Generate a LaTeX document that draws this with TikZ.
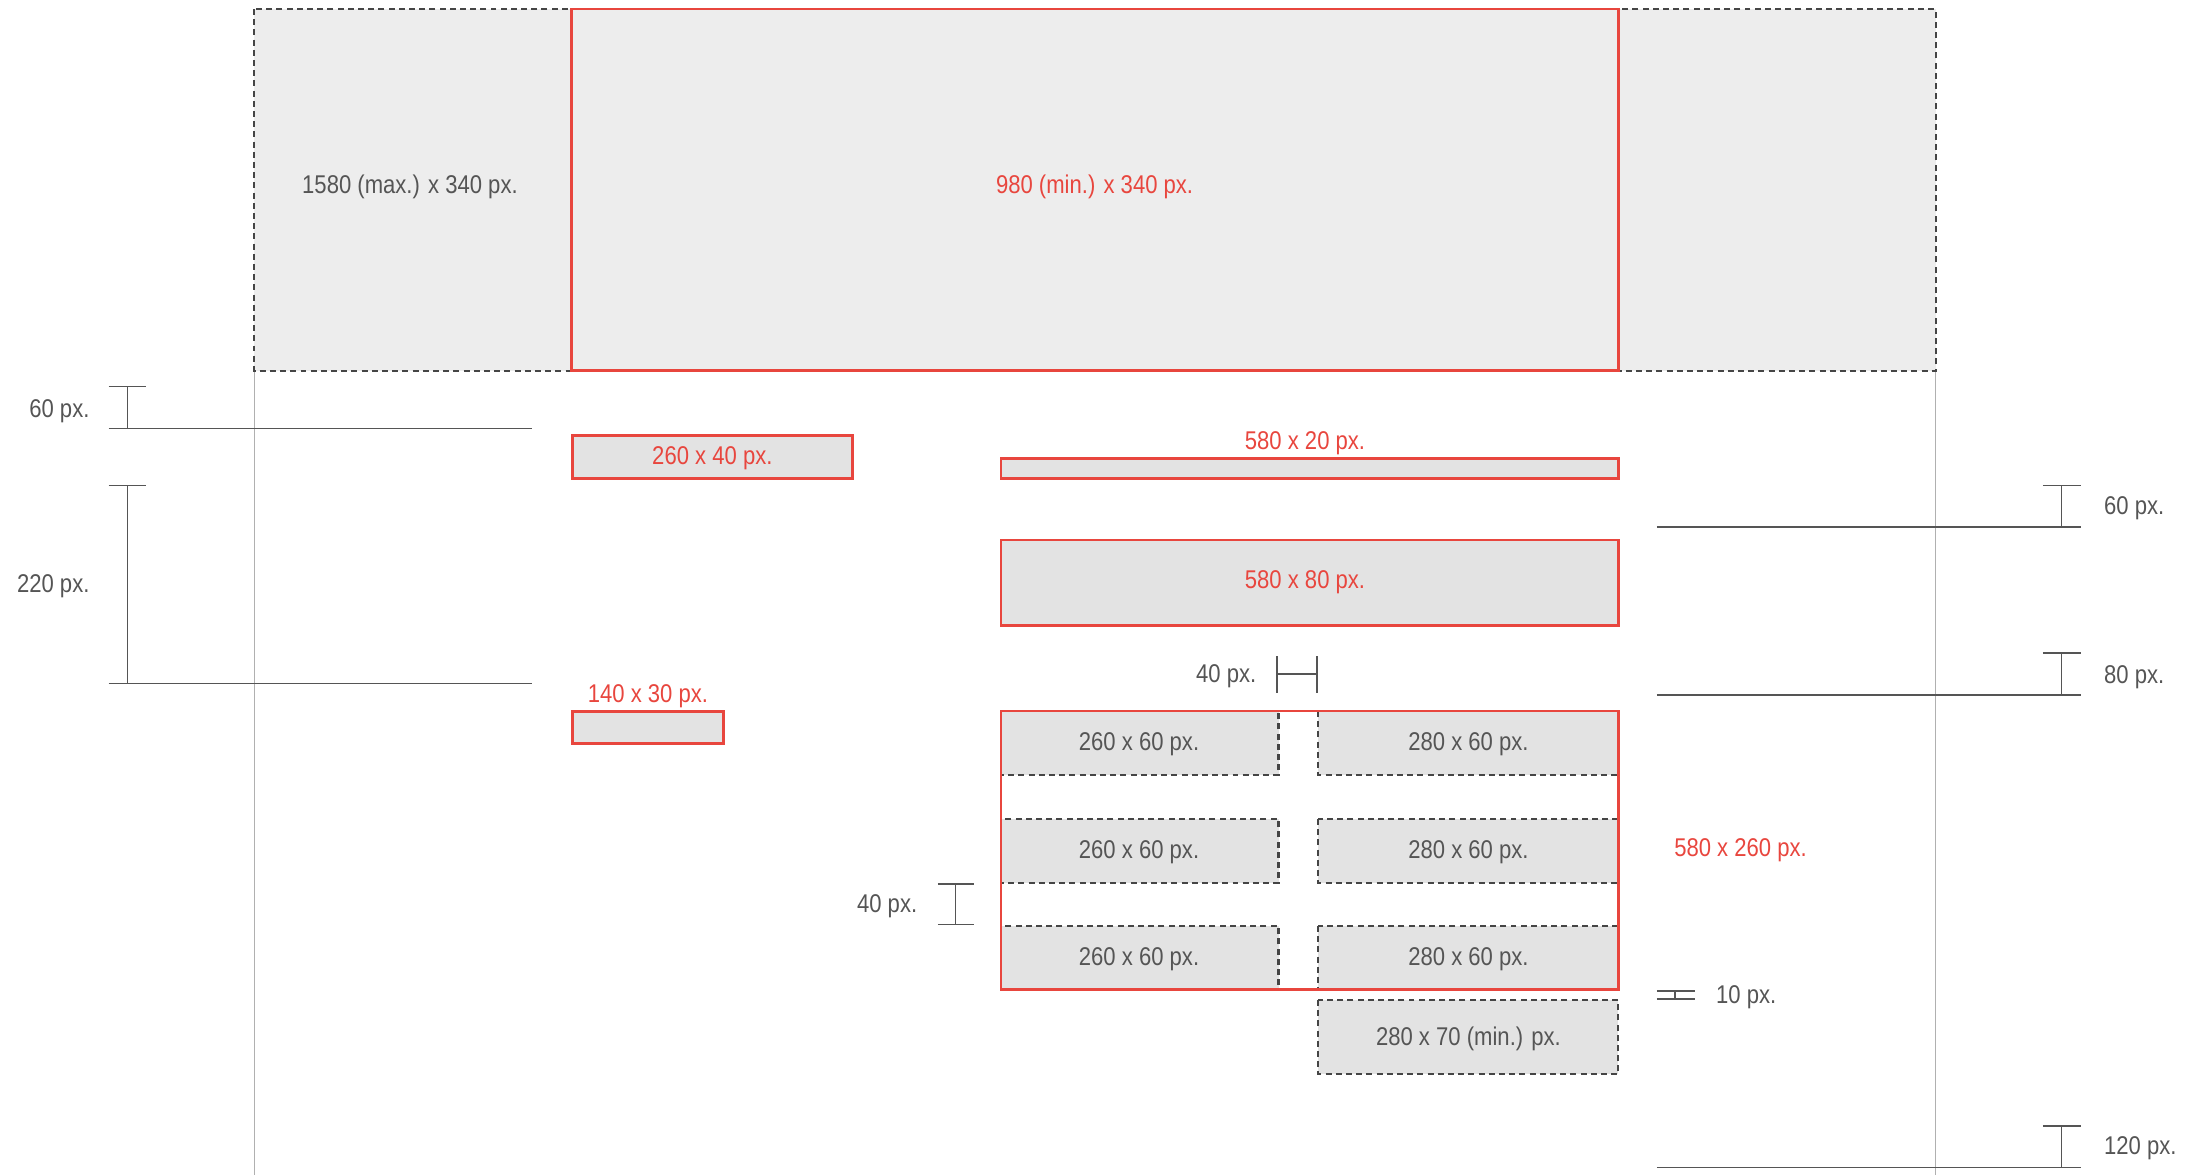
\documentclass[tikz,border=0pt]{standalone}
\usepackage{fontspec}
\setmainfont{Liberation Sans}[FakeStretch=0.86]
\usepackage{xcolor}
\definecolor{cRed}{HTML}{E8463E}
\definecolor{cText}{HTML}{555555}
\definecolor{cDash}{HTML}{454545}
\definecolor{cFillTop}{HTML}{EDEDED}
\definecolor{cFill}{HTML}{E3E3E3}
\definecolor{cGuide}{HTML}{B0B0B0}
\usepackage{tikz}
\usetikzlibrary{positioning}
\tikzset{
  box-max/.style={draw=cDash,fill=cFillTop,line width=0.6pt,dash pattern=on 1.7pt off 1.2pt},
  box-min/.style={draw=cRed,line width=0.8pt},
  box-red/.style={draw=cRed,fill=cFill,line width=0.8pt},
  box-cell/.style={draw=cDash,fill=cFill,line width=0.6pt,dash pattern=on 1.7pt off 1.2pt},
  lbl/.style={font=\fontsize{7.3}{8.5}\selectfont,text=cText,inner sep=0pt,anchor=base},
  lbl-red/.style={lbl,text=cRed},
  guide/.style={draw=cGuide,line width=0.35pt},
  dim/.style={draw=cText,line width=0.45pt},
}

\begin{document}
\begin{tikzpicture}[x=0.013935cm,y=-0.013935cm]
  \useasboundingbox (0,0) rectangle (1568,843);
  % hilfslinien links/rechts
  \draw[guide] (182.5,6.5) -- (182.5,843);
  \draw[guide] (1389,6.5) -- (1389,843);

  % header
  \draw[box-max] (182.5,6.5) rectangle (1389,266);
  \draw[box-min] (410,6.5) rectangle (1161.5,266);
  \node[lbl] (hdr-max) at (294.2,138.6) {1580 (max.) x 340 px.};
  \node[lbl-red] (hdr-min) at (785.5,138.5) {980 (min.) x 340 px.};

  % linke spalte
  \draw[box-red] (410.6,312.4) rectangle (611.8,343.5);
  \node[lbl-red] (logo) at (511.2,333) {260 x 40 px.};
  \node[lbl-red] (sub) at (465,504) {140 x 30 px.};
  \draw[box-red] (410.6,510.7) rectangle (519,533.4);

  % rechte spalte
  \node[lbl-red] (bar) at (936.5,322.3) {580 x 20 px.};
  \draw[box-red] (718.3,329) rectangle (1161.4,343.5);
  \draw[box-red] (718.3,387.5) rectangle (1161.4,449);
  \node[lbl-red] (title) at (936.5,422.5) {580 x 80 px.};

  % raster 2 x 3
  \foreach \y/\r in {510.2/1, 587.7/2, 664.5/3} {
    \draw[box-cell] (718.3,\y) rectangle (917.5,\y+46);
    \draw[box-cell] (946.1,\y) rectangle (1161.4,\y+46);
    \node[lbl] (cell-l\r) at (817.4,\y+28.5) {260 x 60 px.};
    \node[lbl] (cell-r\r) at (1053.8,\y+28.5) {280 x 60 px.};
  }
  \draw[box-cell] (946.1,717.6) rectangle (1161.4,770.9);
  \node[lbl] (cell-min) at (1053.8,750.5) {280 x 70 (min.) px.};
  \draw[box-min] (718.3,510.2) rectangle (1161.4,710.2);
  \node[lbl-red,anchor=base west] (grid) at (1201,614.5) {580 x 260 px.};

  % bemassung links
  \foreach \yt/\yb/\txt/\ty in {277.5/307.6/60 px./299.4, 348.5/490.4/220 px./425.5} {
    \draw[dim] (78,\yt) -- (105,\yt);
    \draw[dim] (91.5,\yt) -- (91.5,\yb);
    \draw[dim] (78,\yb) -- (382,\yb);
    \node[lbl,anchor=base east] at (64.7,\ty) {\txt};
  }

  % bemassung rechts
  \foreach \yt/\yb/\txt/\ty in {348.5/378/60 px./369.3, 468.6/498.7/80 px./490.2,
                                808/837.8/120 px./828.7} {
    \draw[dim] (1466,\yt) -- (1493,\yt);
    \draw[dim] (1479.5,\yt) -- (1479.5,\yb);
    \draw[dim] (1189,\yb) -- (1493,\yb);
    \node[lbl,anchor=base west] at (1509.5,\ty) {\txt};
  }

  % abstaende im raster
  \draw[dim] (916.3,470.8) -- (916.3,497.6);
  \draw[dim] (945.1,470.8) -- (945.1,497.6);
  \draw[dim] (916.3,483.7) -- (945.1,483.7);
  \node[lbl,anchor=base east] (gap-h) at (902,489.7) {40 px.};

  \draw[dim] (673,634.4) -- (699.3,634.4);
  \draw[dim] (685.8,634.4) -- (685.8,663.3);
  \draw[dim] (673,663.3) -- (699.3,663.3);
  \node[lbl,anchor=base east] (gap-v) at (658.7,654.8) {40 px.};

  \draw[dim] (1189,711) -- (1216,711);
  \draw[dim] (1189,717) -- (1216,717);
  \draw[dim] (1202,711) -- (1202,717);
  \node[lbl,anchor=base west] (gap-min) at (1231,720.2) {10 px.};
\end{tikzpicture}
\end{document}
